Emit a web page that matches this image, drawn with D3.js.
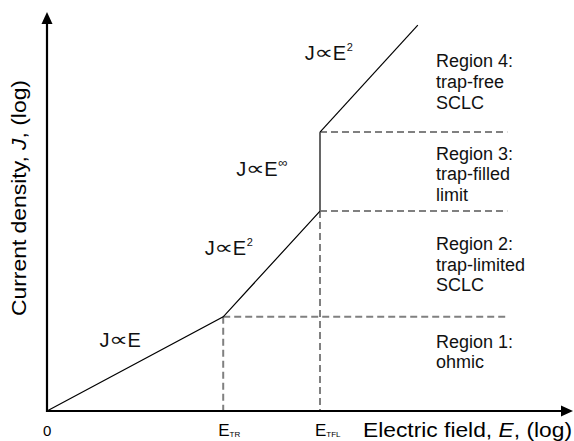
<!DOCTYPE html>
<html>
<head>
<meta charset="utf-8">
<script src="https://cdn.jsdelivr.net/npm/d3@7"></script>
<style>
  html, body { margin: 0; padding: 0; background: #fff; }
  svg { display: block; font-family: "Liberation Sans", Arial, sans-serif; }
</style>
</head>
<body>
<svg id="chart" width="574" height="441"></svg>
<script>
// Schematic J–E characteristic (log–log units, arbitrary)
const curveE = [0, 3.35, 5.19, 5.19, 7.05];      // electric field (log)
const curveJ = [0, 2.36, 5.01, 6.99, 9.67];      // current density (log)

const boundaryJ = [2.36, 5.01, 6.99];             // region boundaries on J
const boundaryStartE = [3.35, 5.19, 5.19];
const boundaryEndE = 8.75;
const fieldMarks = [3.35, 5.19];                  // E_TR, E_TFL
const fieldMarkNames = ["TR", "TFL"];

const lawLabels = [
  { exp: "", e: 1.0, j: 1.6 },
  { exp: "2", e: 3.0, j: 3.9 },
  { exp: "\u221E", e: 3.6, j: 5.9 },
  { exp: "2", e: 4.9, j: 8.8 }
];
const regionLines = [
  ["Region 4:", "trap-free", "SCLC"],
  ["Region 3:", "trap-filled", "limit"],
  ["Region 2:", "trap-limited", "SCLC"],
  ["Region 1:", "ohmic"]
];
const regionTopJ = [8.61, 6.3, 4.04, 1.59];

const svg = d3.select("#chart");
const x = d3.scaleLinear().domain([0, 10]).range([47, 573]);
const y = d3.scaleLinear().domain([0, 10]).range([411, 12]);

// Dashed guide lines
const dashColor = "#808080";
const guides = svg.append("g")
  .attr("stroke", dashColor).attr("stroke-width", 2)
  .attr("stroke-dasharray", "7,4").attr("fill", "none");
boundaryJ.forEach((jv, i) => {
  guides.append("line")
    .attr("x1", x(boundaryStartE[i])).attr("x2", x(boundaryEndE))
    .attr("y1", y(jv)).attr("y2", y(jv));
});
fieldMarks.forEach((ev, i) => {
  guides.append("line")
    .attr("x1", x(ev)).attr("x2", x(ev))
    .attr("y1", y(boundaryJ[i])).attr("y2", y(0));
});

// Characteristic curve
const pts = curveE.map((e, i) => [e, curveJ[i]]);
const line = d3.line().x(d => x(d[0])).y(d => y(d[1]));
svg.append("path")
  .attr("d", line(pts.slice(0, 3)))
  .attr("fill", "none").attr("stroke", "#000").attr("stroke-width", 1.2);
svg.append("path")
  .attr("d", line(pts.slice(2, 4)))
  .attr("fill", "none").attr("stroke", "#666").attr("stroke-width", 2);
svg.append("path")
  .attr("d", line(pts.slice(3, 5)))
  .attr("fill", "none").attr("stroke", "#000").attr("stroke-width", 1.2);

// Axes with arrowheads
const axes = svg.append("g");
axes.append("line")
  .attr("x1", x(0)).attr("x2", x(10) - 10)
  .attr("y1", y(0)).attr("y2", y(0))
  .attr("stroke", "#000").attr("stroke-width", 2.2);
axes.append("line")
  .attr("x1", x(0)).attr("x2", x(0))
  .attr("y1", y(0) + 1).attr("y2", y(10) + 10)
  .attr("stroke", "#000").attr("stroke-width", 2.2);
axes.append("path")
  .attr("d", `M${x(10)},${y(0)} L${x(10) - 12},${y(0) - 5.5} L${x(10) - 12},${y(0) + 5.5} Z`)
  .attr("fill", "#000");
axes.append("path")
  .attr("d", `M${x(0)},${y(10)} L${x(0) - 5.5},${y(10) + 12} L${x(0) + 5.5},${y(10) + 12} Z`)
  .attr("fill", "#000");

// Axis tick labels
svg.append("text").attr("x", x(0) - 4).attr("y", 436)
  .attr("font-size", 15).text("0");
fieldMarks.forEach((ev, i) => {
  const t = svg.append("text").attr("x", x(ev) - 5).attr("y", 436).attr("font-size", 17);
  t.append("tspan").text("E");
  t.append("tspan").attr("font-size", 8).attr("dy", 1).text(fieldMarkNames[i]);
});

// Axis titles
const xt = svg.append("text").attr("x", 363).attr("y", 437).attr("font-size", 21)
  .attr("textLength", 209).attr("lengthAdjust", "spacingAndGlyphs");
xt.append("tspan").text("Electric field, ");
xt.append("tspan").attr("font-style", "italic").text("E");
xt.append("tspan").text(", (log)");

const yt = svg.append("text")
  .attr("transform", "translate(26,198) rotate(-90)")
  .attr("text-anchor", "middle").attr("font-size", 21)
  .attr("textLength", 236).attr("lengthAdjust", "spacingAndGlyphs");
yt.append("tspan").text("Current density, ");
yt.append("tspan").attr("font-style", "italic").text("J");
yt.append("tspan").text(", (log)");

// Power-law labels: J ∝ E^n, each glyph placed on its own
lawLabels.forEach(d => {
  const g = svg.append("g").attr("transform", `translate(${x(d.e)},${y(d.j)})`)
    .attr("fill", "#111");
  g.append("text").attr("x", 0).attr("font-size", 20).text("J");
  g.append("text").attr("transform", "translate(9.5,-1) scale(1.4,1)")
    .attr("font-family", "DejaVu Sans").attr("font-size", 19).text("\u221D");
  g.append("text").attr("x", 28).attr("font-size", 20).text("E");
  if (d.exp) {
    g.append("text").attr("x", 42).attr("y", -9)
      .attr("font-size", d.exp === "2" ? 11 : 13).text(d.exp);
  }
});

// Region descriptions
regionLines.forEach((lines, i) => {
  const t = svg.append("text").attr("font-size", 18).attr("fill", "#111");
  lines.forEach((s, k) => {
    t.append("tspan").attr("x", 436).attr("y", y(regionTopJ[i]) + k * 20.8).text(s);
  });
});
</script>
</body>
</html>
